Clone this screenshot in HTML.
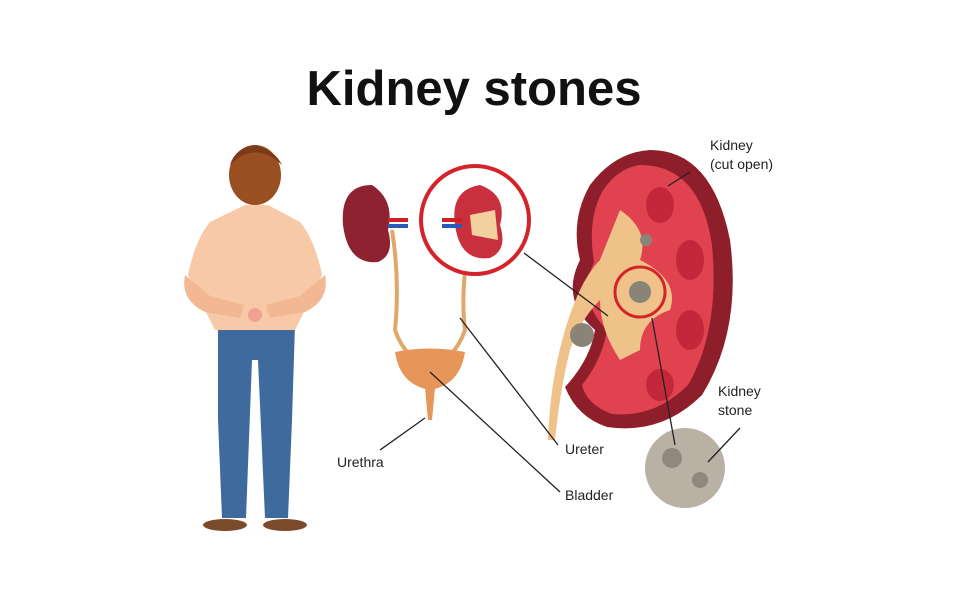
<!DOCTYPE html>
<html><head><meta charset="utf-8"><style>
html,body{margin:0;padding:0;background:#fff;}
svg{display:block;}
text{font-family:"Liberation Sans",sans-serif;}
</style></head><body>
<svg width="959" height="599" viewBox="0 0 959 599" xmlns="http://www.w3.org/2000/svg">
<rect width="959" height="599" fill="#fff"/>
<text x="474" y="105" text-anchor="middle" font-size="49" font-weight="bold" fill="#111">Kidney stones</text>

<!-- Man -->
<ellipse cx="225" cy="525" rx="22" ry="6" fill="#7a4a2a"/>
<ellipse cx="285" cy="525" rx="22" ry="6" fill="#7a4a2a"/>
<path d="M218 325 L295 325 L292 420 L288 518 L265 518 L258 360 L252 360 L246 518 L222 518 L218 420 Z" fill="#3f6a9e"/>
<path d="M245 205 L268 205 L300 222 Q315 240 322 275 L310 300 L295 330 L215 330 L200 300 L188 275 Q195 240 210 222 Z" fill="#f7c9a6"/>
<path d="M185 275 Q180 300 205 312 L240 318 L244 305 L210 296 Z" fill="#f2b894"/>
<path d="M325 275 Q330 300 305 312 L270 318 L266 305 L300 296 Z" fill="#f2b894"/>
<circle cx="255" cy="315" r="7" fill="#e88" opacity=".6"/>
<ellipse cx="255" cy="175" rx="26" ry="30" fill="#9a4f22"/>
<path d="M230 165 Q255 140 282 165 Q275 150 255 145 Q235 148 230 165Z" fill="#7d3c17"/>

<!-- small kidneys & ureters -->
<path d="M372 185 Q340 185 343 225 Q348 265 378 262 Q395 255 388 230 Q395 200 372 185Z" fill="#8e2231"/>
<rect x="388" y="218" width="20" height="4" fill="#c22"/><rect x="388" y="224" width="20" height="4" fill="#2a5bb8"/>
<path d="M392 230 Q400 280 395 330 Q400 345 410 355" stroke="#e0a76a" stroke-width="4" fill="none"/>
<path d="M470 240 Q460 290 465 330 Q460 345 450 355" stroke="#e0a76a" stroke-width="4" fill="none"/>
<path d="M395 352 Q430 345 465 352 Q460 385 430 390 Q400 385 395 352Z" fill="#e7965a"/>
<path d="M425 388 L435 388 L432 420 L428 420Z" fill="#e7965a"/>
<circle cx="475" cy="220" r="54" fill="#fff" stroke="#d4242a" stroke-width="4"/>
<path d="M480 185 Q450 190 455 225 Q460 262 490 258 Q508 250 500 225 Q508 195 480 185Z" fill="#c9303d"/>
<path d="M470 215 L495 210 L498 240 L472 235Z" fill="#f2d0a0"/>
<rect x="442" y="218" width="20" height="4" fill="#c22"/><rect x="442" y="224" width="20" height="4" fill="#2a5bb8"/>

<!-- big kidney -->
<path d="M650 150 Q712 150 730 240 Q742 330 702 395 Q662 435 607 427 Q577 417 565 387 Q590 360 595 330 Q560 300 580 260 Q570 220 590 185 Q615 152 650 150Z" fill="#8e1f2a"/>
<path d="M640 165 Q700 165 712 245 Q720 330 688 385 Q655 418 612 414 Q587 405 582 385 Q602 360 607 330 Q577 300 594 262 Q587 220 602 192 Q617 168 640 165Z" fill="#e0424f"/>
<g fill="#c4273a"><ellipse cx="690" cy="260" rx="14" ry="20"/><ellipse cx="690" cy="330" rx="14" ry="20"/><ellipse cx="660" cy="205" rx="14" ry="18"/><ellipse cx="660" cy="385" rx="14" ry="16"/></g>
<path d="M620 210 Q650 230 640 260 Q680 280 670 310 Q640 320 640 350 L620 360 Q600 330 600 300 Q580 320 570 350 Q560 390 555 440 L548 440 Q550 380 565 330 Q580 280 600 260 Z" fill="#efc28a"/>
<circle cx="640" cy="292" r="25" fill="none" stroke="#d4242a" stroke-width="3"/>
<circle cx="640" cy="292" r="11" fill="#8a8378"/>
<circle cx="582" cy="335" r="12" fill="#8a8378"/>
<circle cx="646" cy="240" r="6" fill="#8a8378"/>
<circle cx="685" cy="468" r="40" fill="#b8b1a4"/>
<circle cx="672" cy="458" r="10" fill="#8f887c"/><circle cx="700" cy="480" r="8" fill="#8f887c"/>

<!-- leader lines -->
<g stroke="#222" stroke-width="1.3">
<line x1="524" y1="253" x2="608" y2="316"/>
<line x1="460" y1="318" x2="558" y2="445"/>
<line x1="430" y1="372" x2="560" y2="492"/>
<line x1="380" y1="450" x2="425" y2="418"/>
<line x1="652" y1="318" x2="675" y2="445"/>
<line x1="690" y1="172" x2="668" y2="186"/>
<line x1="740" y1="428" x2="708" y2="462"/>
</g>
<g font-size="14" fill="#222">
<text x="710" y="150">Kidney</text><text x="710" y="169">(cut open)</text>
<text x="718" y="396">Kidney</text><text x="718" y="415">stone</text>
<text x="337" y="467">Urethra</text>
<text x="565" y="454">Ureter</text>
<text x="565" y="500">Bladder</text>
</g>
</svg>
</body></html>
